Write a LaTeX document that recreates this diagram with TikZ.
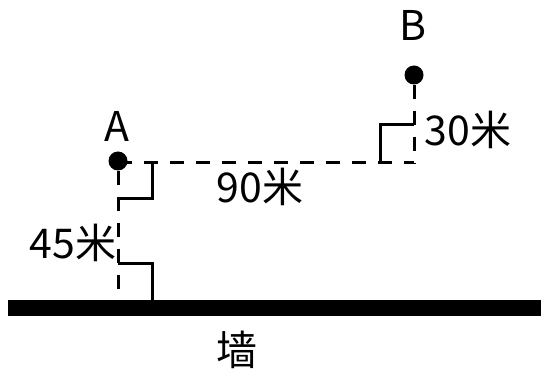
\documentclass[tikz,border=0pt]{standalone}
\usepackage{fontspec}
\newfontfamily\cjk{Noto Sans CJK SC}
\tikzset{
  lbl/.style={font=\cjk\fontsize{35}{40}\selectfont, inner sep=0pt},
  dot/.style={circle, fill=black, minimum size=0.57cm, inner sep=0pt},
  dline/.style={line width=0.09cm, dash pattern=on 0.42cm off 0.36cm},
  rangle/.style={line width=0.09cm},
}
\begin{document}
\begin{tikzpicture}[x=0.03cm,y=-0.03cm]
\useasboundingbox (0,0) rectangle (541,374);
% wall
\draw[line width=0.48cm] (8,308) -- (541,308);
\node[lbl] (wall) at (237,350) {墙};
% points
\node[dot] (A) at (118,161) {};
\node[dot] (B) at (414,75) {};
\node[lbl] (labA) at (117,126) {A};
\node[lbl] (labB) at (413,25) {B};
\coordinate (foot) at (118,300);
\coordinate (C) at (414,163);
% distances
\draw[dline] (A) -- (foot);
\draw[dline] (118,163) -- (C);
\draw[dline] (B) -- (C);
\node[lbl] (d45) at (73,243) {45米};
\node[lbl] (d90) at (260,187) {90米};
\node[lbl] (d30) at (468,130) {30米};
% right angles
\draw[rangle] (152,163) -- (152,199) -- (118,199);
\draw[rangle] (118,263) -- (152,263) -- (152,300);
\draw[rangle] (380,163) -- (380,125) -- (414,125);
\end{tikzpicture}
\end{document}
